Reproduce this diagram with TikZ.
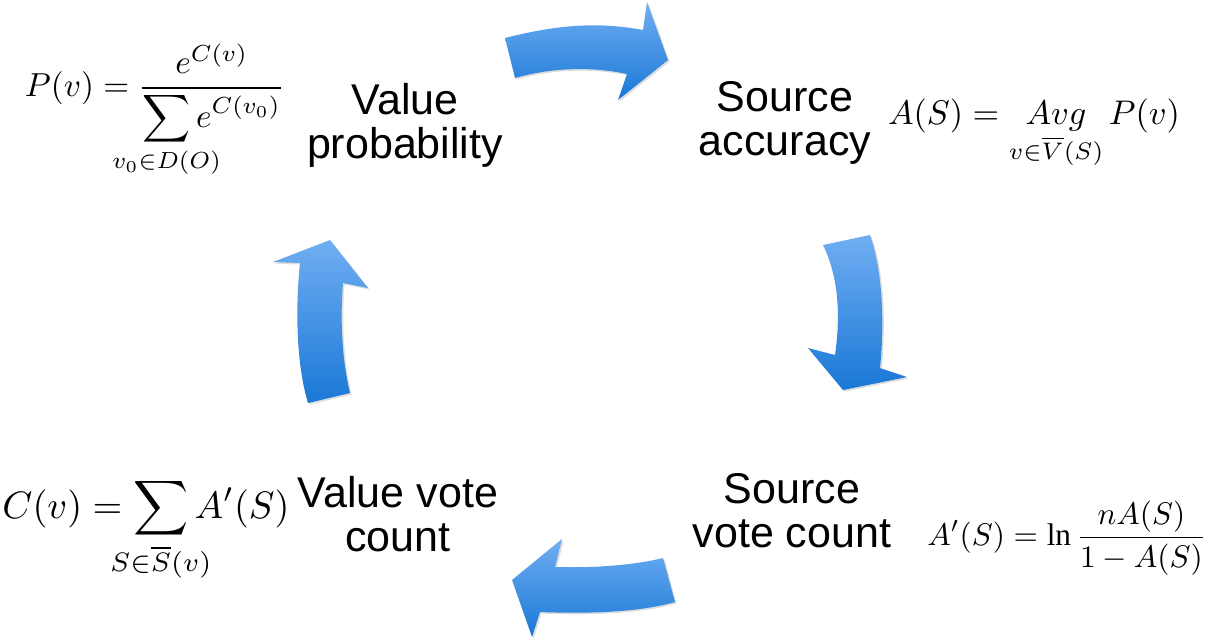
\documentclass[tikz,border=0pt]{standalone}
\usepackage{fontspec}
\setmainfont{Liberation Serif}
\newfontfamily\labelfont{Liberation Sans}
\usepackage{graphicx}
\usetikzlibrary{shadows}
\definecolor{arrowtop}{RGB}{112,174,242}
\definecolor{arrowbot}{RGB}{26,120,214}
\newcommand{\zerosub}[1]{\makebox[0pt]{$\scriptstyle #1$}}
\tikzset{
  stage/.style={align=center, inner sep=0pt, font=\labelfont\fontsize{21.5}{22}\selectfont},
  formula/.style={inner sep=0pt},
  bluearrow/.style={top color=arrowtop, bottom color=arrowbot, draw=none,
    drop shadow={shadow xshift=0.8pt, shadow yshift=-0.8pt, opacity=0.22, fill=black!60}}
}
\begin{document}
\begin{tikzpicture}[x=0.5pt,y=-0.5pt]
\useasboundingbox (0,0) rectangle (1211,639);

% stage labels
\node[stage] (vprob) at (405,125) {Value\\probability};
\node[stage] (sacc)  at (785,123) {Source\\accuracy};
\node[stage] (vvote) at (398,514) {Value vote\\count};
\node[stage] (svote) at (792,511) {Source\\vote count};

% formulas
\node[formula] (fP) at (155,111) {\resizebox{130pt}{!}{$\displaystyle P(v)=\frac{e^{C(v)}}{\displaystyle\sum\limits_{\zerosub{v_0\in D(O)}} e^{C(v_0)}}$}};
\node[formula] (fA) at (1034,134) {\resizebox{146pt}{!}{$\displaystyle A(S)=\mathop{Avg}\limits_{v\in\overline{V}(S)} P(v)$}};
\node[formula] (fC) at (146,530) {\resizebox{143.5pt}{!}{$\displaystyle C(v)=\sum\limits_{\zerosub{S\in\overline{S}(v)}} A'(S)$}};
\node[formula] (fAp) at (1067,538) {\resizebox{139.5pt}{!}{$\displaystyle A'(S)=\ln\frac{nA(S)}{1-A(S)}$}};

% curved block arrows of the cycle
\path[bluearrow] (505,38) .. controls (560,24) and (600,22) .. (643,30) -- (647,2) -- (668,60)
  -- (618,100) -- (627,74) .. controls (590,66) and (550,68) .. (515,78) -- cycle;
\path[bluearrow] (823,245) -- (870,235) .. controls (884,275) and (884,330) .. (880,368)
  -- (907,377) -- (843,390) -- (808,348) -- (835,355) .. controls (840,320) and (840,280) .. (823,245) -- cycle;
\path[bluearrow] (663,558) -- (675,602) .. controls (640,612) and (590,614) .. (540,612)
  -- (532,637) -- (512,580) -- (562,539) -- (555,567) .. controls (590,568) and (630,566) .. (663,558) -- cycle;
\path[bluearrow] (308,403) .. controls (295,360) and (296,300) .. (300,263) -- (273,262)
  -- (330,240) -- (368,288) -- (343,283) .. controls (340,320) and (342,360) .. (350,393) -- cycle;
\end{tikzpicture}
\end{document}
